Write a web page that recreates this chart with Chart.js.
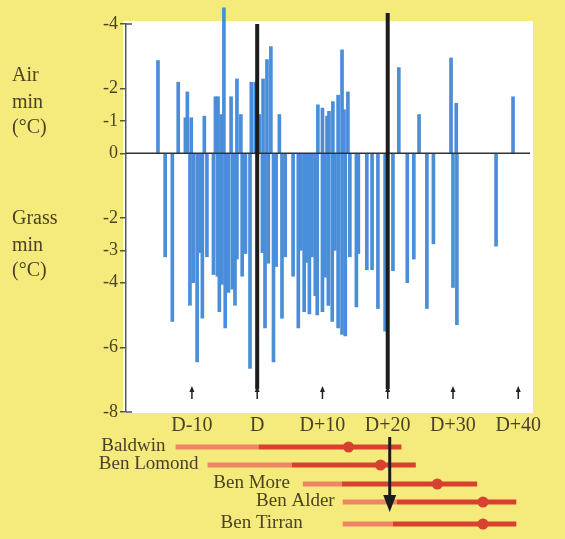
<!DOCTYPE html>
<html>
<head>
<meta charset="utf-8">
<script src="https://cdn.jsdelivr.net/npm/chart.js@4.4.0/dist/chart.umd.min.js"></script>
<style>
  html, body { margin: 0; padding: 0; background: #f5ea7c; }
  #wrap { width: 565px; height: 539px; }
</style>
</head>
<body>
<div id="wrap"><canvas id="frostChart" width="565" height="539"></canvas></div>
<script>
// days relative to D, and minimum temperatures (degC)
var airDays = [-15.2, -12.1, -11.0, -10.7, -10.1, -8.1, -6.4, -6.0, -5.5, -5.1, -4.0, -3.1, -2.5, -0.9, -0.3,
    0.3, 0.9, 1.5, 2.1, 3.4, 9.3, 10.0, 10.7, 11.0, 11.6, 12.4, 13.0, 13.3, 13.9, 21.7, 24.8, 29.7, 30.5, 39.2];
var airMin = [-2.87, -2.2, -1.1, -1.9, -1.1, -1.15, -1.75, -1.75, -1.2, -4.5, -1.75, -2.3, -1.2, -2.2, -2.2,
    -1.2, -2.3, -2.9, -3.3, -1.2, -1.5, -1.4, -1.15, -1.3, -1.6, -1.8, -3.2, -1.35, -1.9, -2.65, -1.2, -2.95, -1.55, -1.75];

var grassDays = [-14.1, -13.0, -10.3, -9.8, -9.2, -8.7, -8.4, -7.7, -6.7, -6.1, -5.8, -5.4, -4.9, -4.4, -3.8,
    -3.4, -3.1, -2.3, -1.8, -1.1, 0.8, 1.2, 1.7, 2.5, 2.9, 3.8, 4.3, 5.5, 6.3, 6.7, 7.2, 7.7, 8.0, 8.4, 8.9,
    9.2, 10.0, 10.4, 10.9, 11.5, 11.9, 12.4, 13.0, 13.5, 14.2, 15.2, 15.5, 16.8, 17.6, 18.5, 19.6, 20.8,
    23.0, 24.0, 26.0, 27.0, 30.0, 30.6, 36.6];
var grassMin = [-3.2, -5.2, -4.7, -4.0, -6.45, -3.07, -5.1, -3.2, -3.75, -3.8, -4.9, -4.05, -5.4, -4.3, -4.2,
    -4.7, -3.27, -3.8, -3.1, -6.65, -3.07, -5.4, -3.4, -6.45, -3.5, -5.1, -3.2, -3.8, -5.4, -3.0, -4.9, -3.37, -4.97, -3.2, -4.4,
    -5.0, -4.9, -3.83, -4.7, -5.2, -3.0, -5.4, -5.6, -5.65, -3.2, -4.75, -3.1, -3.6, -3.6, -4.8, -5.5, -3.63,
    -4.0, -3.27, -4.8, -2.8, -4.15, -5.3, -2.87];

// axis ticks
var dayTicks = [-10, 0, 10, 20, 30, 40];
var dayTickLabels = ['D-10', 'D', 'D+10', 'D+20', 'D+30', 'D+40'];
var yTickValues = [4, 2, 1, 0, -2, -3, -4, -6, -8];
var yTickLabels = ['-4', '-2', '-1', '0', '-2', '-3', '-4', '-6', '-8'];

// marked days (thick black lines)
var markerDays = [0, 20];

// hills: range of days, darker part and dot
var hills = ['Baldwin', 'Ben Lomond', 'Ben More', 'Ben Alder', 'Ben Tirran'];
var hillStart = [-12.5, -7.6, 7.0, 13.1, 13.1];
var hillPeakStart = [0.2, 5.3, 13.0, 21.4, 20.8];
var hillEnd = [22.1, 24.3, 33.7, 39.7, 39.7];
var hillDot = [14.0, 18.9, 27.6, 34.6, 34.6];

// layout
var YELLOW = '#f5ea7c';
var TEXT = '#4b4226';
var BLUE = '#4a8dd8';
var SERIF = '"Liberation Serif", "DejaVu Serif", serif';
var rowY = [447, 465, 484, 502, 524];
var labelGap = [10, 9, 13, 8, 40];
var markerTop = [24, 13];

var airPoints = airDays.map(function(d, i) { return { x: d, y: -airMin[i] }; });
var grassPoints = grassDays.map(function(d, i) { return { x: d, y: grassMin[i] }; });

var framePlugin = {
    id: 'frame',
    beforeDraw: function(chart) {
        var c = chart.ctx, a = chart.chartArea;
        c.save();
        c.fillStyle = YELLOW;
        c.fillRect(0, 0, chart.width, chart.height);
        c.fillStyle = '#ffffff';
        c.fillRect(a.left - 3, a.top - 3, a.right - a.left + 6, a.bottom - a.top + 4);
        c.restore();
    },
    afterDatasetsDraw: function(chart) {
        var c = chart.ctx, a = chart.chartArea;
        var xs = chart.scales.x, ys = chart.scales.y;
        c.save();
        // zero line
        var y0 = ys.getPixelForValue(0);
        c.strokeStyle = '#333';
        c.lineWidth = 1.5;
        c.beginPath();
        c.moveTo(a.left, y0);
        c.lineTo(a.right, y0);
        c.stroke();
        // inward end ticks
        c.strokeStyle = '#555';
        c.beginPath();
        c.moveTo(a.left, ys.getPixelForValue(4));
        c.lineTo(a.left + 6, ys.getPixelForValue(4));
        c.moveTo(a.left, ys.getPixelForValue(-8));
        c.lineTo(a.left + 6, ys.getPixelForValue(-8));
        c.stroke();
        // thick black lines
        c.strokeStyle = '#1c1c1c';
        c.lineWidth = 4;
        markerDays.forEach(function(d, i) {
            var px = xs.getPixelForValue(d);
            c.beginPath();
            c.moveTo(px, markerTop[i]);
            c.lineTo(px, 389);
            c.stroke();
        });
        // small up arrows
        c.fillStyle = '#222';
        c.strokeStyle = '#222';
        c.lineWidth = 1.5;
        dayTicks.forEach(function(d) {
            var px = xs.getPixelForValue(d);
            c.beginPath();
            c.moveTo(px, 399);
            c.lineTo(px, 390);
            c.stroke();
            c.beginPath();
            c.moveTo(px, 386);
            c.lineTo(px - 2.5, 392);
            c.lineTo(px + 2.5, 392);
            c.closePath();
            c.fill();
        });
        // hills
        c.font = '19px ' + SERIF;
        c.textAlign = 'right';
        c.textBaseline = 'middle';
        hills.forEach(function(name, i) {
            var y = rowY[i];
            var x1 = xs.getPixelForValue(hillStart[i]);
            var x2 = xs.getPixelForValue(hillPeakStart[i]);
            var x3 = xs.getPixelForValue(hillEnd[i]);
            c.lineWidth = 5;
            c.strokeStyle = '#ee8566';
            c.beginPath(); c.moveTo(x1, y); c.lineTo(x2, y); c.stroke();
            c.strokeStyle = '#d8412f';
            c.beginPath(); c.moveTo(x2, y); c.lineTo(x3, y); c.stroke();
            c.fillStyle = '#d8412f';
            c.beginPath();
            c.arc(xs.getPixelForValue(hillDot[i]), y, 5.5, 0, Math.PI * 2);
            c.fill();
            c.fillStyle = TEXT;
            c.fillText(name, x1 - labelGap[i], y - 1);
        });
        // down arrow from D+20
        var ax = xs.getPixelForValue(markerDays[1]) + 2;
        c.strokeStyle = '#1c1c1c';
        c.fillStyle = '#1c1c1c';
        c.lineWidth = 3;
        c.beginPath();
        c.moveTo(ax, 437);
        c.lineTo(ax, 500);
        c.stroke();
        c.beginPath();
        c.moveTo(ax - 6.5, 495);
        c.lineTo(ax + 6.5, 495);
        c.lineTo(ax, 512);
        c.closePath();
        c.fill();
        // axis titles
        c.fillStyle = TEXT;
        c.font = '20px ' + SERIF;
        c.textAlign = 'left';
        c.fillText('Air', 12, 76);
        c.fillText('min', 12, 103);
        c.fillText('(°C)', 12, 128);
        c.fillText('Grass', 12, 219);
        c.fillText('min', 12, 246);
        c.fillText('(°C)', 12, 271);
        c.restore();
    }
};

var ctx = document.getElementById('frostChart').getContext('2d');
var chart = new Chart(ctx, {
    type: 'bar',
    data: {
        datasets: [{
            label: 'Air min',
            data: airPoints,
            backgroundColor: BLUE,
            barThickness: 3,
            grouped: false,
            clip: false
        }, {
            label: 'Grass min',
            data: grassPoints,
            backgroundColor: BLUE,
            barThickness: 3,
            grouped: false
        }]
    },
    options: {
        responsive: false,
        animation: false,
        layout: { padding: { top: 24, right: 35, bottom: 107, left: 0 } },
        plugins: { legend: { display: false }, tooltip: { enabled: false } },
        scales: {
            x: {
                type: 'linear',
                offset: false,
                min: -20.1,
                max: 41.8,
                grid: { display: false, drawTicks: false },
                border: { display: false },
                afterBuildTicks: function(scale) {
                    scale.ticks = dayTicks.map(function(v) { return { value: v }; });
                },
                afterFit: function(scale) { scale.height = 20; },
                ticks: {
                    padding: 2,
                    color: TEXT,
                    font: { family: SERIF, size: 20 },
                    maxRotation: 0,
                    callback: function(v) { return dayTickLabels[dayTicks.indexOf(v)]; }
                }
            },
            y: {
                min: -8,
                max: 4,
                grid: { display: true, drawOnChartArea: false, drawTicks: true, tickLength: 6, color: '#555', lineWidth: 1.5 },
                border: { display: true, color: '#555', width: 1.5 },
                afterBuildTicks: function(scale) {
                    scale.ticks = yTickValues.map(function(v) { return { value: v }; });
                },
                afterFit: function(scale) { scale.width = 126; },
                ticks: {
                    padding: 2,
                    color: TEXT,
                    font: { family: SERIF, size: 18 },
                    callback: function(v) { return yTickLabels[yTickValues.indexOf(v)]; }
                }
            }
        }
    },
    plugins: [framePlugin]
});
</script>
</body>
</html>
